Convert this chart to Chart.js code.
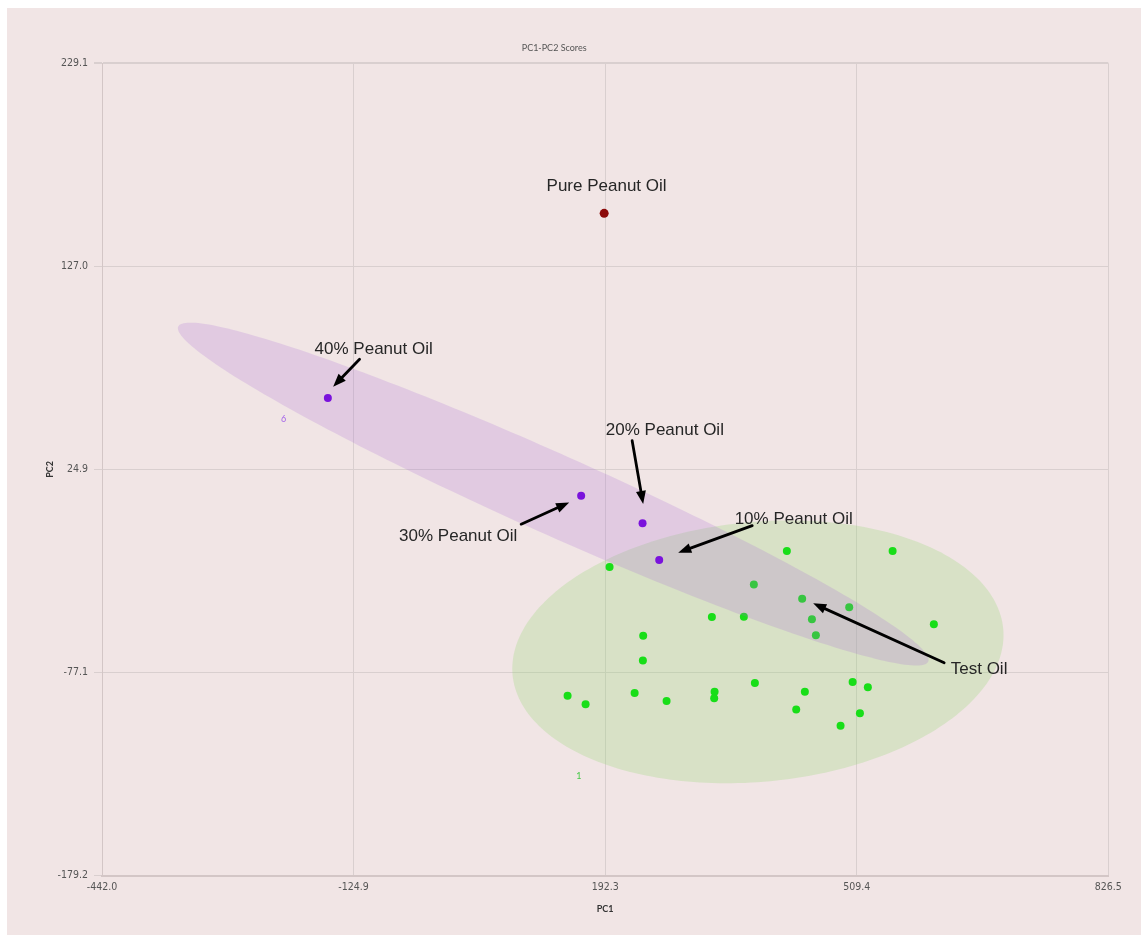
<!DOCTYPE html>
<html>
<head>
<meta charset="utf-8">
<script src="https://cdn.jsdelivr.net/npm/chart.js@4.4.1/dist/chart.umd.min.js"></script>
<style>
  html, body { margin: 0; padding: 0; background: #ffffff; }
  #wrap { position: absolute; left: 0; top: 0; width: 1148px; height: 943px; }
</style>
</head>
<body>
<div id="wrap"><canvas id="scores" width="1148" height="943"></canvas></div>
<script>
// ---- PCA scores: PC1 / PC2 ----
const pureLabel = 'Pure Peanut Oil';
const purePC1 = [191.0];
const purePC2 = [153.7];

const blendLabels = ['40% Peanut Oil', '30% Peanut Oil', '20% Peanut Oil', '10% Peanut Oil'];
const blendPC1 = [-157.3, 162.0, 239.4, 260.4];
const blendPC2 = [60.9, 11.7, -2.1, -20.5];

const testPC1 = [421.3, 554.6, 197.8, 379.7, 440.6, 499.9, 326.8, 367.1, 452.9, 606.6,
                 240.2, 457.9, 239.8, 381.0, 504.2, 523.4, 144.9, 229.4, 330.2, 444.0,
                 167.6, 269.7, 329.7, 433.1, 513.4, 489.0];
const testPC2 = [-16.0, -16.0, -24.0, -32.9, -40.0, -44.3, -49.2, -49.0, -50.3, -52.8,
                 -58.6, -58.4, -71.1, -82.3, -81.8, -84.5, -88.7, -87.4, -86.7, -86.7,
                 -93.0, -91.4, -90.0, -95.7, -97.6, -103.9];

// class tags and their score-space positions
const classTags = ['6', '1'];
const classTagPC1 = [-213.1, 159.1];
const classTagPC2 = [50.5, -128.9];

// confidence ellipses: centre, major half-axis, minor half-axis (score units)
const blendEllipseCentre = [126.8, 12.6];
const blendEllipseMajor = [472.7, -84.2];
const blendEllipseMinor = [-20.6, -18.3];
const testEllipseCentre = [384.8, -66.7];
const testEllipseMajor = [309.2, 11.7];
const testEllipseMinor = [15.5, -65.0];

// axis ticks
const xTickValues = [-442.0, -124.875, 192.25, 509.375, 826.5];
const xTickLabels = ['-442.0', '-124.9', '192.3', '509.4', '826.5'];
const yTickValues = [-179.2, -77.125, 24.95, 127.025, 229.1];
const yTickLabels = ['-179.2', '-77.1', '24.9', '127.0', '229.1'];

// ---- styling ----
const PANEL_BG = '#f1e5e5';
const GRID = '#d9cfcf';
const TEXT_FONT = '"Liberation Sans", Arial, sans-serif';
const TICK_FONT = '"Liberation Sans Narrow", "DejaVu Sans Condensed", sans-serif';

function toPoints(xs, ys) { return xs.map((x, i) => ({ x: x, y: ys[i] })); }

// callouts: text and arrow placed relative to a scored sample (pixel offsets)
const callouts = [
  { ds: 1, idx: 0, text: blendLabels[0], tx: 45.8, ty: -48.7, arrow: [31.7, -38.7, 5.3, -11.3] },
  { ds: 1, idx: 1, text: blendLabels[1], tx: -123, ty: 40, arrow: [-60, 28.3, -12, 6.7] },
  { ds: 1, idx: 2, text: blendLabels[2], tx: 22.3, ty: -92.6, arrow: [-10.4, -82.6, 0.6, -19.3] },
  { ds: 1, idx: 3, text: blendLabels[3], tx: 134.5, ty: -41, arrow: [93, -34.3, 19, -7.3] },
  { ds: 2, idx: 4, text: 'Test Oil', tx: 176.9, ty: 70.3, arrow: [142, 64, 11, 4.6] },
  { ds: 0, idx: 0, text: pureLabel, tx: 2.4, ty: -26.6, arrow: null }
];

function ellipsePath(chart, centre, major, minor) {
  const xs = chart.scales.x, ys = chart.scales.y;
  const ctx = chart.ctx;
  ctx.beginPath();
  const N = 240;
  for (let i = 0; i <= N; i++) {
    const t = (i / N) * Math.PI * 2;
    const c = Math.cos(t), s = Math.sin(t);
    const vx = centre[0] + major[0] * c + minor[0] * s;
    const vy = centre[1] + major[1] * c + minor[1] * s;
    const px = xs.getPixelForValue(vx), py = ys.getPixelForValue(vy);
    if (i === 0) ctx.moveTo(px, py); else ctx.lineTo(px, py);
  }
  ctx.closePath();
}

function clipArea(chart) {
  const a = chart.chartArea;
  chart.ctx.beginPath();
  chart.ctx.rect(a.left, a.top, a.right - a.left, a.bottom - a.top);
  chart.ctx.clip();
}

const panelPlugin = {
  id: 'panel',
  beforeDraw(chart) {
    const ctx = chart.ctx;
    ctx.save();
    ctx.fillStyle = '#ffffff';
    ctx.fillRect(0, 0, chart.width, chart.height);
    ctx.fillStyle = PANEL_BG;
    ctx.fillRect(7, 8, 1134, 927);
    ctx.restore();
  }
};

const ellipsePlugin = {
  id: 'ellipses',
  beforeDatasetsDraw(chart) {
    const ctx = chart.ctx;
    ctx.save();
    clipArea(chart);
    ellipsePath(chart, testEllipseCentre, testEllipseMajor, testEllipseMinor);
    ctx.fillStyle = 'rgba(150, 215, 120, 0.28)';
    ctx.fill();
    ctx.restore();
  },
  beforeDatasetDraw(chart, args) {
    if (args.index !== 1) return;
    const ctx = chart.ctx;
    ctx.save();
    clipArea(chart);
    ellipsePath(chart, blendEllipseCentre, blendEllipseMajor, blendEllipseMinor);
    ctx.fillStyle = 'rgba(170, 110, 215, 0.22)';
    ctx.fill();
    ctx.restore();
  }
};

function drawArrow(ctx, x0, y0, x1, y1) {
  const ang = Math.atan2(y1 - y0, x1 - x0);
  const headLen = 13, headHalf = 5;
  const bx = x1 - Math.cos(ang) * headLen, by = y1 - Math.sin(ang) * headLen;
  ctx.beginPath();
  ctx.moveTo(x0, y0);
  ctx.lineTo(bx + Math.cos(ang) * 2, by + Math.sin(ang) * 2);
  ctx.lineWidth = 2.8;
  ctx.strokeStyle = '#000000';
  ctx.lineCap = 'round';
  ctx.stroke();
  ctx.beginPath();
  ctx.moveTo(x1, y1);
  ctx.lineTo(bx + Math.cos(ang + Math.PI / 2) * headHalf, by + Math.sin(ang + Math.PI / 2) * headHalf);
  ctx.lineTo(bx - Math.cos(ang + Math.PI / 2) * headHalf, by - Math.sin(ang + Math.PI / 2) * headHalf);
  ctx.closePath();
  ctx.fillStyle = '#000000';
  ctx.fill();
}

const calloutPlugin = {
  id: 'callouts',
  afterDatasetsDraw(chart) {
    const ctx = chart.ctx;
    const xs = chart.scales.x, ys = chart.scales.y;
    ctx.save();
    // class tags
    ctx.font = '9px Lato, "Open Sans", sans-serif';
    ctx.textAlign = 'center';
    ctx.textBaseline = 'middle';
    const tagColours = ['#a565e8', '#46c846'];
    classTags.forEach((t, i) => {
      ctx.fillStyle = tagColours[i];
      ctx.fillText(t, xs.getPixelForValue(classTagPC1[i]), ys.getPixelForValue(classTagPC2[i]));
    });
    // annotation texts and arrows
    ctx.font = '17px ' + TEXT_FONT;
    callouts.forEach(c => {
      const el = chart.getDatasetMeta(c.ds).data[c.idx];
      const px = el.x, py = el.y;
      ctx.fillStyle = '#262626';
      ctx.fillText(c.text, px + c.tx, py + c.ty);
      if (c.arrow) {
        drawArrow(ctx, px + c.arrow[0], py + c.arrow[1], px + c.arrow[2], py + c.arrow[3]);
      }
    });
    ctx.restore();
  }
};

new Chart(document.getElementById('scores'), {
  type: 'scatter',
  data: {
    datasets: [
      {
        label: pureLabel,
        data: toPoints(purePC1, purePC2),
        backgroundColor: '#8c0a0a',
        borderColor: '#8c0a0a',
        pointRadius: 4.5,
        borderWidth: 0
      },
      {
        label: 'Peanut oil blends',
        data: toPoints(blendPC1, blendPC2),
        backgroundColor: '#7a12dc',
        borderColor: '#7a12dc',
        pointRadius: 4,
        borderWidth: 0
      },
      {
        label: 'Test Oil',
        data: toPoints(testPC1, testPC2),
        backgroundColor: '#18de18',
        borderColor: '#18de18',
        pointRadius: 4,
        borderWidth: 0
      }
    ]
  },
  options: {
    responsive: false,
    animation: false,
    events: [],
    layout: { padding: { left: 0, right: 39.7, top: 0, bottom: 0 } },
    plugins: {
      legend: { display: false },
      tooltip: { enabled: false },
      title: {
        display: true,
        text: 'PC1-PC2 Scores',
        color: '#555555',
        font: { family: 'Lato, "Open Sans", sans-serif', size: 9, weight: 'normal', lineHeight: 1.2 },
        padding: { top: 43, bottom: 9.5 }
      }
    },
    scales: {
      x: {
        type: 'linear',
        position: 'bottom',
        min: -442.0,
        max: 826.5,
        afterBuildTicks: s => { s.ticks = xTickValues.map(v => ({ value: v })); },
        afterFit: s => { s.height = 67.3; },
        ticks: {
          autoSkip: false,
          maxRotation: 0,
          padding: 5,
          color: '#555555',
          font: { family: TICK_FONT, size: 10.5 },
          callback: (v, i) => xTickLabels[i]
        },
        grid: { color: GRID, lineWidth: 1, drawTicks: false },
        border: { display: true, color: '#d3c6c6', width: 2 },
        title: {
          display: true,
          text: 'PC1',
          color: '#333333',
          font: { family: 'Lato, "Open Sans", sans-serif', size: 9, weight: 'bold', lineHeight: 1.2 },
          padding: { top: 0, bottom: 28.6 }
        }
      },
      y: {
        type: 'linear',
        position: 'left',
        min: -179.2,
        max: 229.1,
        afterBuildTicks: s => { s.ticks = yTickValues.map(v => ({ value: v })); },
        afterFit: s => { s.width = 102; },
        ticks: {
          autoSkip: false,
          padding: 6,
          color: '#555555',
          font: { family: TICK_FONT, size: 10.5 },
          callback: (v, i) => yTickLabels[i]
        },
        grid: {
          color: GRID,
          lineWidth: ctx => (ctx.index === yTickValues.length - 1 ? 2 : 1),
          drawTicks: true,
          tickLength: 8
        },
        border: { display: true, color: '#d3c6c6', width: 1 },
        title: {
          display: true,
          text: 'PC2',
          color: '#333333',
          font: { family: 'Lato, "Open Sans", sans-serif', size: 9, weight: 'bold', lineHeight: 1.2 },
          padding: { top: 44.6, bottom: 0 }
        }
      }
    }
  },
  plugins: [panelPlugin, ellipsePlugin, calloutPlugin]
});
</script>
</body>
</html>
